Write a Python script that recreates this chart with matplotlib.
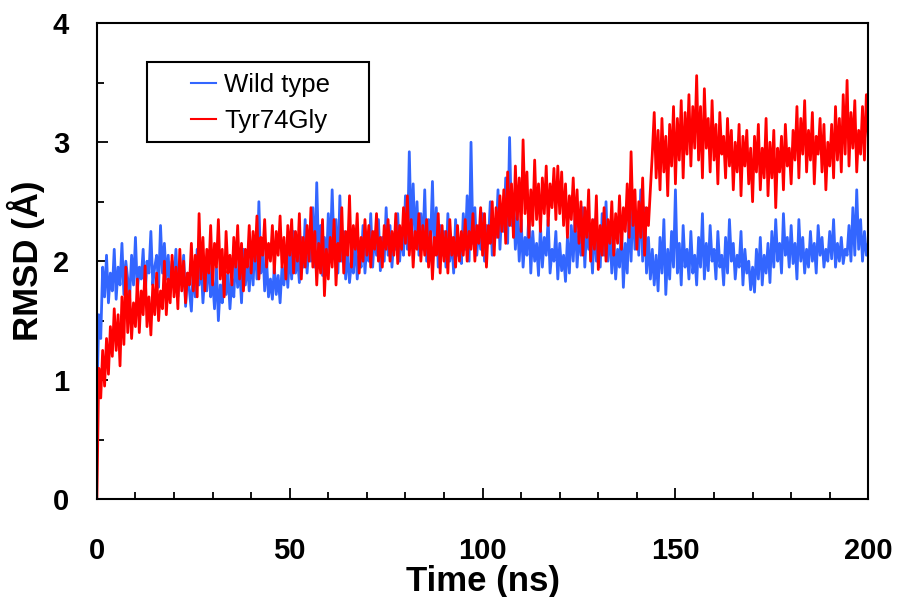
import matplotlib
matplotlib.use('Agg')
import matplotlib.pyplot as plt
from matplotlib.patches import Rectangle
import numpy as np

# Tiempo (ns), un punto cada 0.5 ns
tiempo_inicio = 0.0
tiempo_paso = 0.5

# RMSD (A), bloques de 5 ns
rmsd_wild = [
    0.80, 1.55, 1.35, 1.95, 1.70, 2.05, 1.65, 1.90, 1.75, 2.10,
    1.68, 1.95, 1.80, 2.15, 1.72, 2.00, 1.85, 1.70, 2.05, 1.80,
    2.20, 1.75, 1.95, 1.85, 2.10, 1.70, 2.00, 1.90, 2.25, 1.80,
    1.95, 2.05, 1.78, 2.30, 1.90, 2.15, 1.85, 2.05, 1.75, 2.00,
    1.85, 2.10, 1.70, 1.95, 1.80, 2.05, 1.62, 1.90, 1.75, 1.58,
    1.95, 1.70, 2.10, 1.80, 2.00, 1.65, 1.90, 1.75, 2.05, 1.70,
    1.85, 1.60, 1.95, 1.50, 1.80, 1.65, 2.00, 1.72, 1.90, 1.60,
    1.85, 1.70, 2.05, 1.78, 1.95, 1.65, 2.10, 1.80, 2.00, 1.75,
    2.05, 1.80, 2.20, 1.85, 2.50, 1.90, 2.15, 1.75, 2.00, 1.70,
    1.85, 1.68, 1.95, 1.72, 1.88, 1.65, 1.95, 1.80, 2.05, 1.78,
    2.10, 1.85, 2.25, 1.90, 2.05, 1.82, 2.20, 1.95, 2.35, 1.90,
    2.15, 2.00, 2.45, 1.95, 2.66, 2.05, 2.30, 1.88, 2.20, 1.95,
    2.40, 2.05, 2.60, 2.10, 2.35, 1.90, 2.55, 2.00, 2.25, 1.85,
    2.10, 1.82, 2.00, 1.90, 2.20, 1.85, 2.05, 1.95, 2.30, 1.90,
    2.15, 2.00, 2.40, 1.95, 2.25, 2.05, 2.35, 1.92, 2.20, 2.00,
    2.45, 2.05, 2.30, 1.95, 2.20, 2.10, 2.40, 2.00, 2.25, 2.05,
    2.55, 2.10, 2.92, 2.20, 2.65, 2.15, 2.50, 2.05, 2.40, 2.10,
    2.60, 2.00, 2.35, 2.15, 2.67, 2.05, 2.45, 1.95, 2.30, 2.05,
    2.25, 1.95, 2.40, 2.00, 2.20, 1.90, 2.35, 2.05, 2.15, 1.98,
    2.40, 2.10, 2.55, 2.00, 3.00, 2.15, 2.45, 2.05, 2.30, 2.10,
    2.40, 2.00, 2.30, 2.15, 2.50, 2.05, 2.35, 2.20, 2.60, 2.10,
    2.45, 2.25, 2.70, 2.15, 3.04, 2.30, 2.55, 2.10, 2.40, 2.00,
    2.35, 1.95, 2.20, 2.05, 2.40, 1.90, 2.25, 2.00, 2.15, 1.88,
    2.30, 1.95, 2.20, 2.05, 2.35, 1.90, 2.10, 2.00, 2.25, 1.85,
    2.15, 1.92, 2.05, 1.83, 2.20, 1.90, 2.30, 2.00, 2.40, 1.95,
    2.25, 2.05, 2.45, 1.95, 2.30, 2.10, 2.20, 1.90, 2.35, 2.00,
    2.25, 1.95, 2.40, 2.05, 2.50, 2.00, 2.30, 1.90, 2.20, 1.85,
    2.10, 1.95, 2.30, 1.78, 2.15, 1.90, 2.40, 2.00, 2.55, 2.10,
    2.35, 2.05, 2.60, 2.00, 2.45, 1.90, 2.20, 1.85, 2.10, 1.80,
    2.05, 1.75, 2.20, 1.90, 2.35, 1.72, 2.10, 1.85, 2.25, 1.95,
    2.60, 1.90, 2.15, 1.80, 2.30, 1.95, 2.10, 1.85, 2.25, 1.90,
    2.05, 1.80, 2.20, 1.95, 2.40, 1.85, 2.15, 1.92, 2.30, 2.00,
    2.10, 1.85, 2.25, 1.95, 2.05, 1.80, 2.20, 1.90, 2.35, 2.00,
    2.15, 1.85, 2.05, 1.95, 2.25, 1.80, 2.10, 1.90, 2.00, 1.76,
    1.95, 1.74, 2.10, 1.85, 2.20, 1.80, 2.05, 1.90, 2.15, 1.82,
    2.25, 1.95, 2.35, 2.00, 2.15, 1.90, 2.40, 2.05, 2.20, 1.95,
    2.30, 1.98, 2.15, 1.85, 2.35, 2.00, 2.20, 1.90, 2.10, 1.95,
    2.25, 2.00, 2.15, 1.90, 2.30, 2.05, 2.20, 1.95, 2.10, 2.00,
    2.25, 2.02, 2.35, 1.95, 2.15, 2.00, 2.20, 1.98, 2.10, 2.05,
    2.30, 2.00, 2.45, 2.05, 2.60, 2.10, 2.35, 2.00, 2.25, 2.05,
    2.15,
]

rmsd_tyr74gly = [
    0.00, 1.10, 0.85, 1.25, 0.95, 1.35, 1.05, 1.45, 1.20, 1.60,
    1.25, 1.55, 1.12, 1.70, 1.30, 1.95, 1.40, 1.75, 1.35, 1.65,
    1.45, 1.85, 1.40, 1.75, 1.55, 1.96, 1.45, 1.70, 1.38, 1.80,
    1.55, 1.90, 1.50, 1.75, 1.60, 2.00, 1.55, 1.85, 1.65, 2.05,
    1.70, 1.95, 1.60, 2.10, 1.75, 2.00, 1.65, 1.90, 1.80, 2.15,
    1.75, 2.05, 1.70, 2.40, 1.85, 2.20, 1.75, 2.10, 1.90, 2.30,
    1.80, 2.15, 1.95, 2.35, 1.85, 2.10, 1.70, 2.25, 1.90, 2.05,
    1.80, 2.20, 1.95, 2.30, 1.85, 2.15, 1.75, 2.10, 1.95, 2.30,
    1.90, 2.25, 2.00, 2.38, 1.85, 2.20, 2.05, 2.35, 1.95, 2.15,
    2.00, 2.30, 1.90, 2.25, 2.05, 2.38, 1.95, 2.20, 1.85, 2.30,
    2.05, 2.35, 1.90, 2.25, 2.00, 2.40, 1.85, 2.20, 1.95, 2.30,
    2.00, 2.45, 1.95, 2.25, 1.80, 2.15, 1.90, 2.35, 1.71, 2.10,
    1.85, 2.20, 1.95, 2.35, 1.80, 2.15, 2.00, 2.45, 1.90, 2.25,
    2.05, 2.55, 1.95, 2.30, 2.10, 2.40, 1.90, 2.20, 2.00, 2.35,
    2.05, 2.30, 1.95, 2.25, 2.10, 2.40, 2.00, 2.20, 1.95, 2.30,
    2.10, 2.35, 2.00, 2.25, 2.05, 2.40, 1.98, 2.30, 2.10, 2.45,
    2.15, 2.55, 2.05, 2.35, 1.95, 2.25, 2.10, 2.40, 2.00, 2.30,
    2.05, 2.35, 1.95, 2.25, 1.85, 2.20, 2.05, 2.40, 1.90, 2.30,
    2.00, 2.25, 1.90, 2.35, 2.05, 2.20, 1.95, 2.30, 2.00, 2.25,
    2.05, 2.35, 2.00, 2.25, 2.10, 2.40, 2.00, 2.30, 2.15, 2.45,
    2.05, 2.40, 1.95, 2.30, 2.15, 2.50, 2.05, 2.45, 2.20, 2.55,
    2.25, 2.60, 2.15, 2.75, 2.30, 2.65, 2.20, 2.80, 2.35, 2.70,
    2.25, 3.02, 2.40, 2.75, 2.20, 2.60, 2.30, 2.85, 2.35, 2.65,
    2.25, 2.70, 2.40, 2.80, 2.30, 2.65, 2.45, 2.78, 2.35, 2.80,
    2.40, 2.75, 2.30, 2.65, 2.20, 2.55, 2.35, 2.70, 2.25, 2.60,
    2.15, 2.50, 2.05, 2.45, 2.20, 2.60, 2.00, 2.35, 2.10, 2.55,
    1.93, 2.30, 2.05, 2.45, 2.00, 2.35, 2.15, 2.50, 2.05, 2.40,
    2.15, 2.55, 2.10, 2.45, 2.25, 2.65, 2.20, 2.92, 2.30, 2.60,
    2.10, 2.50, 2.20, 2.70, 2.05, 2.45, 2.30, 2.60, 2.90, 3.25,
    2.70, 3.10, 2.60, 3.20, 2.75, 3.05, 2.55, 3.15, 2.80, 3.30,
    2.65, 3.20, 2.85, 3.35, 2.70, 3.25, 2.90, 3.40, 2.80, 3.30,
    2.95, 3.56, 2.85, 3.30, 2.70, 3.45, 2.95, 3.20, 2.75, 3.35,
    2.85, 3.15, 2.65, 3.25, 2.90, 3.05, 2.70, 3.20, 2.80, 3.10,
    2.60, 3.00, 2.75, 3.15, 2.55, 3.05, 2.80, 3.10, 2.65, 2.95,
    2.50, 3.05, 2.75, 3.15, 2.60, 2.95, 2.70, 3.20, 2.55, 3.00,
    2.70, 3.10, 2.45, 2.95, 2.75, 3.05, 2.60, 3.15, 2.80, 2.95,
    2.65, 3.10, 2.85, 3.30, 2.70, 3.20, 2.90, 3.35, 2.75, 3.10,
    2.85, 3.25, 2.65, 3.05, 2.90, 3.20, 2.75, 3.15, 2.60, 3.00,
    2.80, 3.15, 2.70, 3.30, 2.85, 3.20, 2.75, 3.40, 2.90, 3.52,
    2.80, 3.25, 2.95, 3.35, 2.75, 3.10, 2.90, 3.30, 2.85, 3.40,
    3.05,
]

etiquetas = ['Wild type', 'Tyr74Gly']
xticks = [0, 50, 100, 150, 200]
yticks = [0, 1, 2, 3, 4]

plt.rcParams['font.family'] = ['Liberation Sans', 'DejaVu Sans']

tiempo_wild = tiempo_inicio + tiempo_paso * np.arange(len(rmsd_wild))
tiempo_tyr = tiempo_inicio + tiempo_paso * np.arange(len(rmsd_tyr74gly))

fig = plt.figure(figsize=(8.97, 5.97), dpi=100)
ax = fig.add_axes([0.108, 0.164, 0.860, 0.797])

ax.plot(tiempo_wild, rmsd_wild, color='#3366FF', linewidth=2.0, label=etiquetas[0])
ax.plot(tiempo_tyr, rmsd_tyr74gly, color='#FF0000', linewidth=2.0, label=etiquetas[1])

ax.set_xlim(0, 200)
ax.set_ylim(0, 4)
ax.set_xticks(xticks)
ax.set_yticks(yticks)
ax.set_xticks(np.arange(0, 201, 10), minor=True)
ax.set_yticks(np.arange(0, 4.01, 0.5), minor=True)

ax.tick_params(which='both', direction='in', top=False, right=False, width=1.3)
ax.tick_params(which='major', length=8)
ax.tick_params(which='minor', length=5)
ax.tick_params(axis='x', which='major', pad=27, labelsize=21)
ax.tick_params(axis='y', which='major', pad=20, labelsize=21)
for lbl in ax.get_xticklabels() + ax.get_yticklabels():
    lbl.set_fontweight('bold')

for s in ax.spines.values():
    s.set_linewidth(1.5)

ax.set_xlabel('Time (ns)', fontsize=25, fontweight='bold', labelpad=0)
ax.set_ylabel('RMSD (Å)', fontsize=25, fontweight='bold', labelpad=6)

# Marco de la leyenda
marco = Rectangle((0.065, 0.75), 0.288, 0.168, transform=ax.transAxes,
                  facecolor='white', edgecolor='black', linewidth=1.5, zorder=5)
ax.add_patch(marco)
leg = ax.legend(loc='center left', bbox_to_anchor=(0.105, 0.832), frameon=False,
                fontsize=18.5, borderpad=0, handlelength=1.0, handletextpad=0.3,
                labelspacing=0.45)
leg.set_zorder(6)
for linea in leg.get_lines():
    linea.set_linewidth(1.5)

plt.savefig('out.png', dpi=100)
